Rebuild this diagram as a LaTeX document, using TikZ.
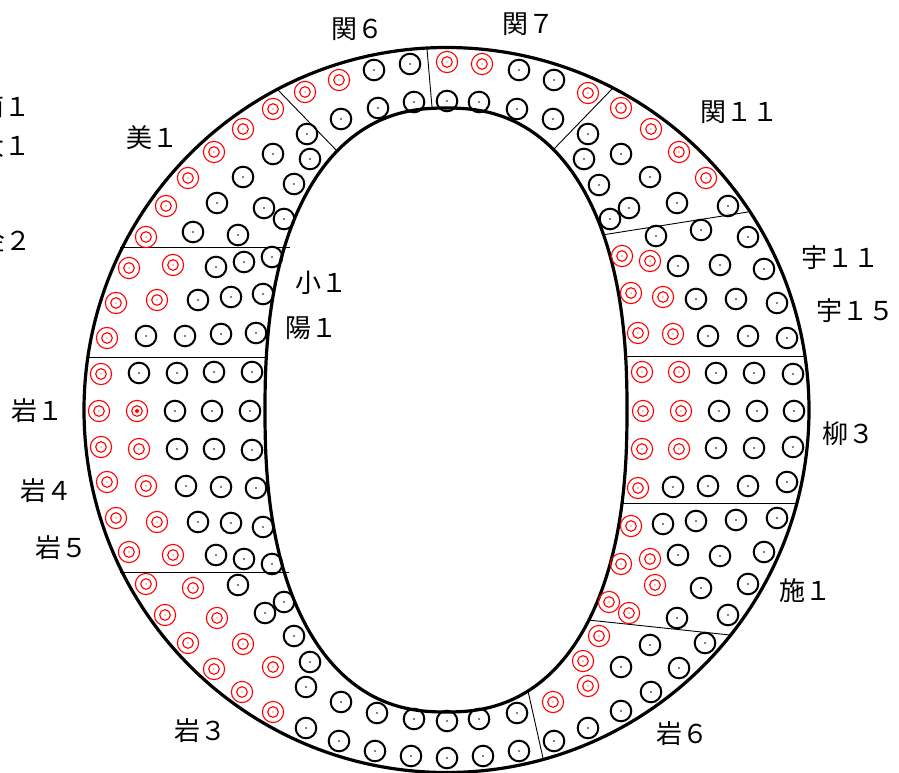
\documentclass[tikz,border=0pt]{standalone}
\usepackage{fontspec}
\newfontfamily\jp{Noto Sans CJK JP}
\begin{document}
\begin{tikzpicture}[x=1pt,y=-1pt,
  bk/.style={draw=black,line width=2pt},
  rd/.style={draw=red,line width=1.1pt},
  ring/.style={draw=black,line width=3.2pt},
  divider/.style={draw=black,line width=0.9pt},
  lab/.style={font=\jp\fontsize{26}{26}\selectfont,inner sep=0pt}]
\useasboundingbox (0,0) rectangle (899,773);
\fill[white] (0,0) rectangle (899,773);
% dividers
\draw[divider] (120,247) -- (290,247);
\draw[divider] (86,357) -- (268,357);
\draw[divider] (120,572) -- (289,572);
\draw[divider] (278,90) -- (338,152);
\draw[divider] (427,49) -- (432,107);
\draw[divider] (612,89) -- (553,150);
\draw[divider] (748,212) -- (602,235);
\draw[divider] (627,356) -- (806,356);
\draw[divider] (622,503) -- (797,503);
\draw[divider] (588,620) -- (730,635);
\draw[divider] (528,691) -- (543,758);
% ring
\draw[ring] (446.5,410) circle[radius=362.5];
\draw[ring] plot[domain=0.5:360.5,samples=181,smooth]
  ({446+181*cos(\x)*exp(-0.149*ln(abs(cos(\x))))},{410+302*sin(\x)*exp(-0.149*ln(abs(sin(\x))))}) -- cycle;
% black circles
\foreach \x/\y in {307/134,310/159,273/154,243/177,294/184,217/203,264/208,284/219,193/232,238/235,
  374/70,410/64,341/119,378/108,414/102,
  519/70,554/80,447/101,479/102,517/109,553/119,
  588/134,584/159,621/154,599/185,650/177,629/208,610/219,677/203,728/206,
  656/236,701/230,748/237,678/266,720/265,764/269,696/299,736/299,777/303,708/336,748/336,787/338,
  716/373,754/373,793/374,719/411,757/411,794/411,716/448,754/448,793/447,673/487,708/486,748/486,787/482,
  663/524,696/521,736/520,777/518,678/555,720/556,764/552,701/588,748/584,677/618,728/615,
  650/645,705/643,621/667,679/668,651/692,621/711,588/728,554/741,
  238/585,265/613,284/602,294/636,310/662,306/687,306/728,341/702,377/713,414/719,447/721,479/719,517/713,
  339/741,375/751,411/756,447/758,483/756,519/751,
  216/267,244/262,272/257,198/300,231/297,263/294,146/336,185/336,221/334,256/333,
  139/373,177/373,214/372,252/372,175/411,212/411,250/411,177/449,214/449,252/450,
  186/486,221/487,256/488,198/522,231/523,263/527,216/555,244/559,272/564}
  {\draw[bk] (\x,\y) circle[radius=10.3]; \fill (\x,\y) circle[radius=0.8];}
% red double circles
\foreach \x/\y in {273/109,243/129,214/152,188/178,166/206,146/237,
  305/92,339/80,447/62,482/64,588/93,
  621/108,651/129,679/152,706/178,
  622/256,650/261,631/293,663/297,638/333,673/334,
  642/372,679/372,643/411,681/411,642/449,679/449,638/488,
  631/526,621/564,650/559,655/585,609/602,629/613,
  599/636,583/661,588/686,553/702,
  146/584,193/588,165/615,217/618,188/643,243/644,214/669,273/667,242/692,273/712,
  129/268,173/265,116/303,157/300,107/338,
  101/374,99/411,137/411,101/447,139/449,107/482,146/486,116/518,157/522,129/552,173/555}
  {\draw[rd] (\x,\y) circle[radius=10.6]; \draw[rd] (\x,\y) circle[radius=5.3]; \fill[red] (\x,\y) circle[radius=0.6];}
\fill[red] (137,411) circle[radius=2];
% labels
\node[lab] (l1) at (357,29) {関６};
\node[lab] (l2) at (528,24) {関７};
\node[lab] (l3) at (739,112) {関１１};
\node[lab] (l4) at (152,138) {美１};
\node[lab] (l5) at (321,283) {小１};
\node[lab] (l6) at (311,328) {陽１};
\node[lab] (l7) at (37,411) {岩１};
\node[lab] (l8) at (46,491) {岩４};
\node[lab] (l9) at (61,548) {岩５};
\node[lab] (l10) at (200,731) {岩３};
\node[lab] (l11) at (840,258) {宇１１};
\node[lab] (l12) at (855,311) {宇１５};
\node[lab] (l13) at (848,434) {柳３};
\node[lab] (l14) at (805,591) {施１};
\node[lab] (l15) at (682,734) {岩６};
\node[lab] (l16) at (5,107) {南１};
\node[lab] (l17) at (5,146) {大１};
\node[lab] (l18) at (5.5,240) {金２};
\end{tikzpicture}
\end{document}
